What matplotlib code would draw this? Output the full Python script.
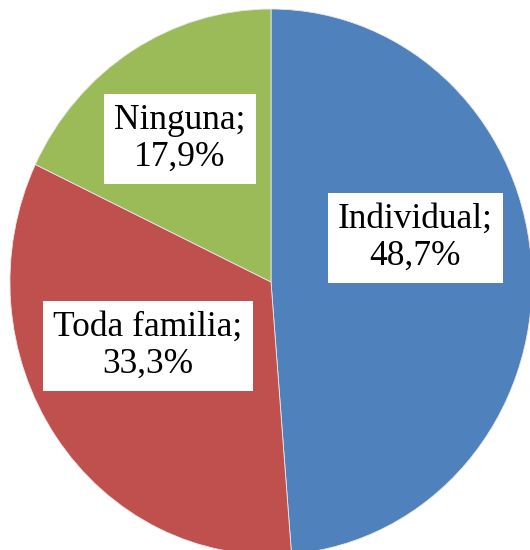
import matplotlib.pyplot as plt

labels = ["Individual", "Toda familia", "Ninguna"]
values = [48.7, 33.3, 17.9]
colors = ["#4F81BD", "#C0504D", "#9BBB59"]

# label centres, in units of the pie radius
label_pos = [(0.552, 0.161), (-0.471, -0.234), (-0.349, 0.524)]

fig = plt.figure(figsize=(5.3, 5.5), dpi=100)
ax = fig.add_axes([0, 0, 1, 1])

ax.pie(values, colors=colors, startangle=90, counterclock=False,
       radius=1, center=(0, 0),
       wedgeprops=dict(edgecolor="#e8e8e8", linewidth=0.6))

for lab, val, (x, y) in zip(labels, values, label_pos):
    txt = "{};\n{}%".format(lab, str(val).replace(".", ","))
    ax.text(x, y, txt, ha="center", va="center", fontsize=25.5,
            family="Liberation Serif", linespacing=1.15,
            bbox=dict(boxstyle="square,pad=0.28", facecolor="white", edgecolor="none"))

# pie is slightly taller than wide in the original
ax.set_aspect("auto")
ax.set_xlim(-1.038, 0.992)
ax.set_ylim(-0.982, 1.033)
ax.axis("off")

fig.savefig("out.png", dpi=100)
